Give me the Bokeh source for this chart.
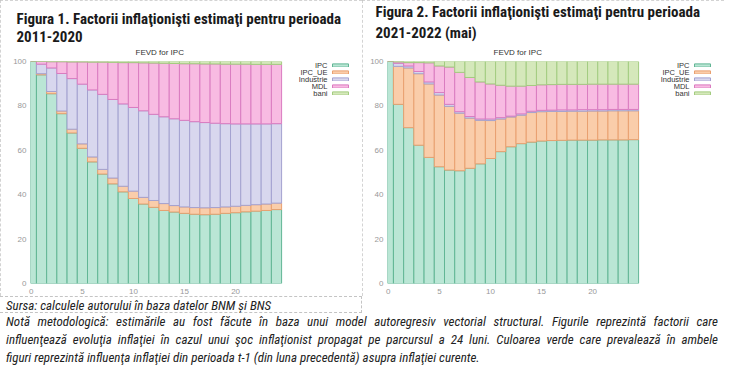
from bokeh.plotting import figure
from bokeh.models import Range1d, Legend, LegendItem, Title, FixedTicker, Div, ColumnDataSource, Label
from bokeh.layouts import row, column
from bokeh.embed import file_html
from bokeh.resources import INLINE

horizons = list(range(25))
series = ["IPC", "IPC_UE", "Industrie", "MDL", "bani"]
x_ticks = [0, 5, 10, 15, 20]
y_ticks = [0, 20, 40, 60, 80, 100]

# Figura 1: 2011-2020
ipc_2011 = [100, 94.0, 85.5, 76.5, 67.8, 60.9, 54.8, 49.3, 44.9, 41.3, 38.3, 35.8, 34.3, 32.9, 32.2, 31.6, 31.2, 31.0, 31.2, 31.6, 31.9, 32.3, 32.6, 32.9, 33.3]
ue_2011 = [0, 0.5, 1.0, 1.2, 1.7, 2.0, 2.2, 2.1, 2.6, 2.5, 3.3, 3.0, 3.1, 3.1, 2.9, 2.9, 3.0, 3.1, 3.0, 2.9, 2.9, 2.9, 2.9, 2.9, 2.9]
ind_2011 = [0, 4.3, 10.6, 16.9, 22.8, 26.9, 30.2, 33.8, 35.4, 37.1, 37.7, 39.0, 38.8, 39.1, 39.1, 39.0, 38.7, 38.4, 38.0, 37.5, 37.1, 36.7, 36.4, 36.1, 35.8]
mdl_2011 = [0, 1.2, 2.8, 5.3, 7.5, 10.0, 12.5, 14.5, 16.7, 18.6, 20.2, 21.6, 23.1, 24.1, 24.9, 25.5, 26.1, 26.4, 26.7, 26.8, 26.9, 26.9, 26.8, 26.8, 26.7]
bani_2011 = [0, 0.0, 0.1, 0.1, 0.2, 0.2, 0.3, 0.3, 0.4, 0.5, 0.5, 0.6, 0.7, 0.8, 0.9, 1.0, 1.0, 1.1, 1.1, 1.2, 1.2, 1.2, 1.3, 1.3, 1.3]

# Figura 2: 2021-2022 (mai)
ipc_2021 = [100, 80.7, 70.2, 62.3, 56.8, 52.6, 51.1, 50.8, 51.9, 53.9, 56.3, 59.4, 61.6, 63.0, 63.7, 64.2, 64.4, 64.5, 64.6, 64.6, 64.6, 64.7, 64.7, 64.7, 64.8]
ue_2021 = [0, 17.1, 26.9, 32.2, 33.1, 32.3, 28.7, 25.9, 22.6, 19.6, 17.1, 14.7, 13.4, 12.8, 13.3, 13.2, 13.1, 13.0, 13.0, 13.0, 13.1, 13.0, 13.1, 13.1, 13.0]
ind_2021 = [0, 1.4, 0.9, 1.0, 0.9, 1.1, 0.9, 0.7, 0.7, 0.6, 0.7, 0.6, 0.4, 0.6, 0.6, 0.6, 0.6, 0.7, 0.6, 0.7, 0.6, 0.6, 0.6, 0.6, 0.6]
mdl_2021 = [0, 0.6, 1.5, 4.0, 8.6, 12.0, 16.8, 17.7, 17.6, 16.7, 15.8, 14.6, 13.5, 12.5, 11.6, 11.5, 11.5, 11.5, 11.5, 11.4, 11.5, 11.5, 11.4, 11.4, 11.4]
bani_2021 = [0, 0.2, 0.5, 0.5, 0.6, 2.0, 2.5, 4.9, 7.2, 9.2, 10.1, 10.7, 11.1, 11.1, 10.8, 10.5, 10.4, 10.3, 10.3, 10.3, 10.2, 10.2, 10.2, 10.2, 10.2]

fills = ["#bae6d5", "#facdaa", "#d8d7ee", "#f8bbe2", "#d5e8bb"]
lines = ["#62b695", "#e9a070", "#a4a2d0", "#da7cc0", "#a3cc80"]

SMALL_FONT = "Liberation Sans"
TITLE_FONT = "Roboto Condensed"
PX_PER_UNIT = 246 / 24.08
ROW_H = 7


def make_panel(title1, title2, cols, border_left, border_right, title_offset, fevd_offset):
    frame_w = 362 - border_left - border_right
    x_start = -0.08
    x_end = x_start + frame_w / PX_PER_UNIT
    p = figure(width=362, height=296, x_range=Range1d(x_start, x_end), y_range=Range1d(0, 100),
               output_backend="svg", toolbar_location=None,
               min_border_left=border_left, min_border_right=border_right,
               min_border_top=0, min_border_bottom=0)
    src = ColumnDataSource(dict(h=horizons, **dict(zip(series, cols))))
    rs = p.vbar_stack(series, x="h", width=1, source=src, fill_color=fills,
                      line_color=lines, line_width=1)

    # outermost title line
    p.title.text = title1
    p.title.align = "left"
    p.title.offset = title_offset
    p.title.text_font = TITLE_FONT
    p.title.text_font_size = "15px"
    p.title.text_font_style = "bold"
    p.title.text_color = "#1a1a1a"
    p.title.standoff = 1

    p.add_layout(Title(text="FEVD for IPC", align="left", offset=fevd_offset, text_font=SMALL_FONT,
                       text_font_size="8px", text_font_style="normal", text_color="#333333",
                       standoff=9), "above")
    p.add_layout(Title(text=title2, align="left", offset=title_offset, text_font=TITLE_FONT,
                       text_font_size="15px", text_font_style="bold", text_color="#1a1a1a",
                       standoff=0), "above")

    p.xaxis.ticker = FixedTicker(ticks=x_ticks)
    p.yaxis.ticker = FixedTicker(ticks=y_ticks)
    for ax in (p.xaxis, p.yaxis):
        ax.axis_line_color = None
        ax.major_tick_line_color = None
        ax.minor_tick_line_color = None
        ax.major_tick_out = 0
        ax.major_tick_in = 0
        ax.minor_tick_out = 0
        ax.major_label_text_font = SMALL_FONT
        ax.major_label_text_font_size = "8px"
        ax.major_label_text_color = "#999999"
    p.yaxis.major_label_standoff = 4
    p.xaxis.major_label_standoff = 5
    p.grid.visible = False
    p.outline_line_color = None

    # legend: swatches on the right, names right-aligned to their left
    items = [LegendItem(label=" ", renderers=[r]) for r in rs]
    legend = Legend(items=items, location="top_right", orientation="vertical",
                    glyph_width=20, glyph_height=4, label_height=ROW_H, label_width=0,
                    label_standoff=0, spacing=0, padding=0, margin=0,
                    label_text_font=SMALL_FONT, label_text_font_size="1px",
                    background_fill_alpha=0, border_line_alpha=0)
    p.add_layout(legend, "center")
    for i, name in enumerate(series):
        p.add_layout(Label(x=x_end, y=100, x_offset=-23, y_offset=-(ROW_H / 2 + ROW_H * i),
                           text=name, text_align="right", text_baseline="middle",
                           text_font=SMALL_FONT, text_font_size="7.5px", text_color="#333333"))
    p.styles = {"outline": "1px dashed #c4c4c4", "outline-offset": "-1px"}
    return p


p1 = make_panel("Figura 1. Factorii inflaţionişti estimaţi pentru perioada", "2011-2020",
                [ipc_2011, ue_2011, ind_2011, mdl_2011, bani_2011], 30, 12, -14, 105)
p2 = make_panel("Figura 2. Factorii inflaţionişti estimaţi pentru perioada", "2021-2022 (mai)",
                [ipc_2021, ue_2021, ind_2021, mdl_2021, bani_2021], 25, 12, -12, 106)

note_html = """
<div style="font-family:'Roboto Condensed';font-style:italic;font-size:13px;color:#222;width:724px;">
<div style="border-top:1px dashed #c4c4c4;border-bottom:1px dashed #c4c4c4;height:17px;line-height:17px;padding-left:6px;width:362px;box-sizing:border-box;border-right:1px dashed #c4c4c4;">Sursa: calculele autorului în baza datelor BNM și BNS</div>
<div style="padding:0 6px 0 6px;line-height:18px;">
<div style="text-align:justify;text-align-last:justify;">Notă metodologică: estimările au fost făcute în baza unui model autoregresiv vectorial structural. Figurile reprezintă factorii care</div>
<div style="text-align:justify;text-align-last:justify;">influenţează evoluţia inflaţiei în cazul unui şoc inflaţionist propagat pe parcursul a 24 luni. Culoarea verde care prevalează în ambele</div>
<div>figuri reprezintă influenţa inflaţiei din perioada t-1 (din luna precedentă) asupra inflaţiei curente.</div>
</div>
</div>
"""
note = Div(text=note_html, width=724, height=71, margin=0)

layout = column(row(p1, p2, spacing=0), note, spacing=0)
open("out.html", "w").write(file_html(layout, INLINE))
